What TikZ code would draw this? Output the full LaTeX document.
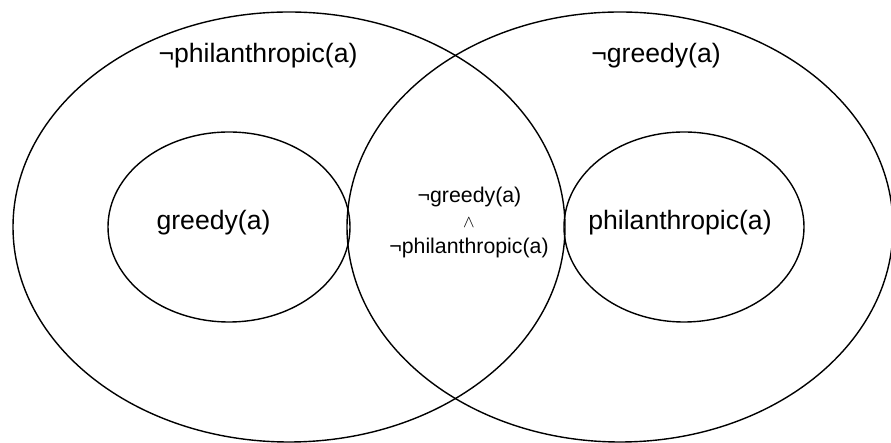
\documentclass[tikz,border=0pt]{standalone}
\usepackage{fontspec}
\setmainfont{Liberation Sans}
\begin{document}
\begin{tikzpicture}[x=1pt,y=1pt,
  outline/.style={draw=black,line width=1.4pt},
  biglabel/.style={anchor=base,inner sep=0pt,font=\fontsize{26.6}{30}\selectfont},
  smalllabel/.style={anchor=base,inner sep=0pt,font=\fontsize{21.3}{24}\selectfont}]
\useasboundingbox (0,0) rectangle (891,443);
% outer sets
\draw[outline] (289,216) ellipse [x radius=276, y radius=215];
\draw[outline] (620,216) ellipse [x radius=273, y radius=215];
% inner sets
\draw[outline] (229,216) ellipse [x radius=121, y radius=95];
\draw[outline] (684,216) ellipse [x radius=120, y radius=95];
% labels
\node[biglabel] (notphil) at (258,380) {¬philanthropic(a)};
\node[biglabel] (notgreedy) at (656,380) {¬greedy(a)};
\node[biglabel] (greedy) at (213.5,213) {greedy(a)};
\node[biglabel] (phil) at (680,213) {philanthropic(a)};
\node[smalllabel] (midgreedy) at (469.5,240) {¬greedy(a)};
\node[anchor=base,inner sep=0pt,font=\fontsize{18}{20}\selectfont] (conj) at (469,215) {$\wedge$};
\node[smalllabel] (midphil) at (469,189) {¬philanthropic(a)};
\end{tikzpicture}
\end{document}
